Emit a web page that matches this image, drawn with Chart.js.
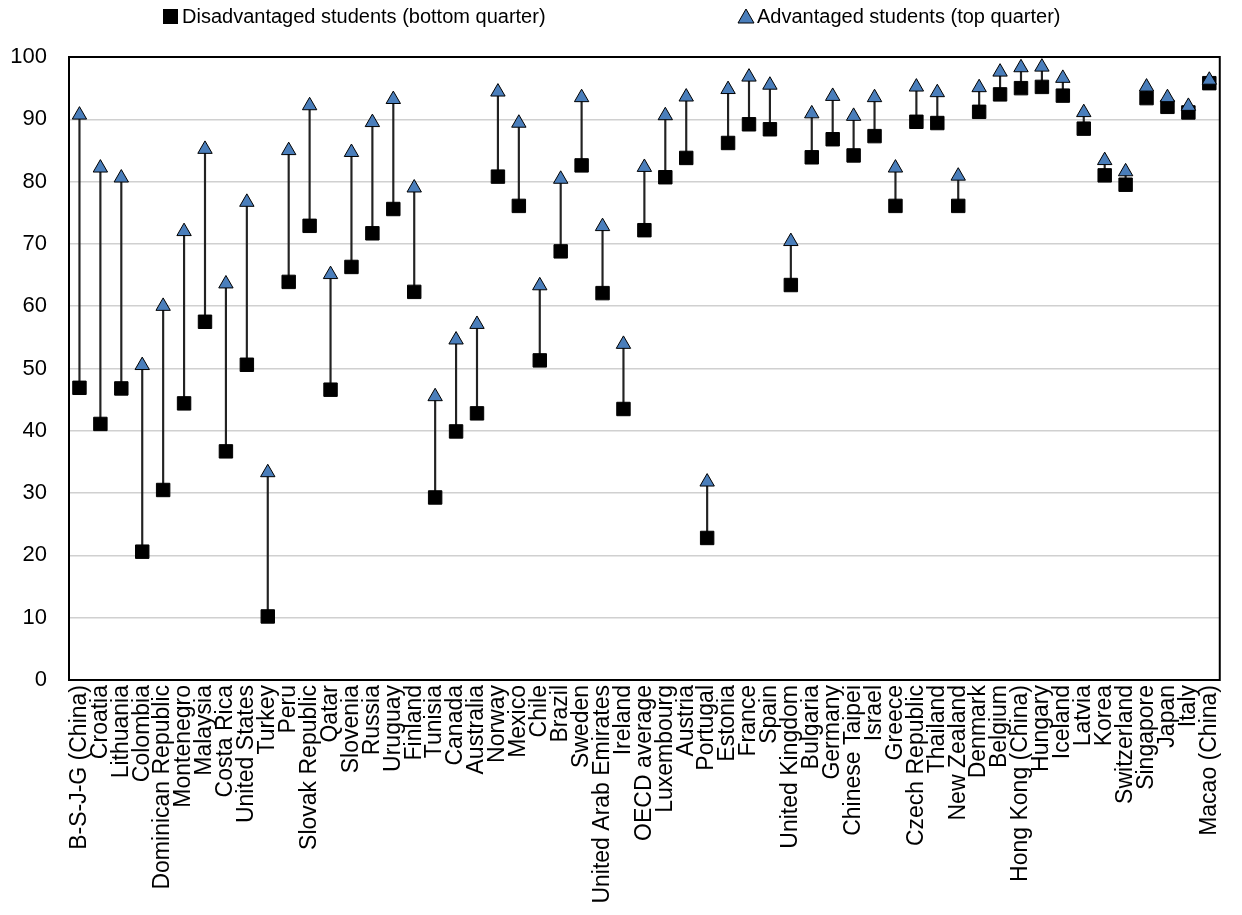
<!DOCTYPE html>
<html>
<head>
<meta charset="utf-8">
<script src="https://cdn.jsdelivr.net/npm/chart.js@4"></script>
<style>
  body { margin: 0; background: #fff; }
  #wrap { position: relative; width: 1242px; height: 915px; }
  .leg { position: absolute; top: 3px; font: 20px "Liberation Sans", Arial, sans-serif; color: #000; line-height: 26px; white-space: nowrap; }
  .leg .sq { display: inline-block; width: 15px; height: 15px; background: #000; margin-right: 4px; vertical-align: -1px; }
  .leg svg { margin-right: 2px; vertical-align: -1px; }
</style>
</head>
<body>
<div id="wrap">
  <div class="leg" style="left:163px"><span class="sq"></span>Disadvantaged students (bottom quarter)</div>
  <div class="leg" style="left:737px"><svg width="18" height="16"><polygon points="9,1 17,15 1,15" fill="#4a7ebb" stroke="#000" stroke-width="1"/></svg>Advantaged students (top quarter)</div>
  <canvas id="myChart" width="1242" height="915"></canvas>
</div>
<script>
// countries, in the order they appear on the axis
var countries = [
    'B-S-J-G (China)', 'Croatia', 'Lithuania', 'Colombia', 'Dominican Republic',
    'Montenegro', 'Malaysia', 'Costa Rica', 'United States', 'Turkey',
    'Peru', 'Slovak Republic', 'Qatar', 'Slovenia', 'Russia',
    'Uruguay', 'Finland', 'Tunisia', 'Canada', 'Australia',
    'Norway', 'Mexico', 'Chile', 'Brazil', 'Sweden',
    'United Arab Emirates', 'Ireland', 'OECD average', 'Luxembourg', 'Austria',
    'Portugal', 'Estonia', 'France', 'Spain', 'United Kingdom',
    'Bulgaria', 'Germany', 'Chinese Taipei', 'Israel', 'Greece',
    'Czech Republic', 'Thailand', 'New Zealand', 'Denmark', 'Belgium',
    'Hong Kong (China)', 'Hungary', 'Iceland', 'Latvia', 'Korea',
    'Switzerland', 'Singapore', 'Japan', 'Italy', 'Macao (China)'
];

// bottom quarter
var disadvantaged = [
    46.9, 41.1, 46.8, 20.6, 30.5, 44.4, 57.5, 36.7, 50.6, 10.2,
    63.9, 72.9, 46.6, 66.3, 71.7, 75.6, 62.3, 29.3, 39.9, 42.8,
    80.8, 76.1, 51.3, 68.8, 82.6, 62.1, 43.5, 72.2, 80.7, 83.8,
    22.8, 86.2, 89.2, 88.4, 63.4, 83.9, 86.8, 84.2, 87.3, 76.1,
    89.6, 89.4, 76.1, 91.2, 94.0, 95.0, 95.2, 93.8, 88.5, 81.0,
    79.5, 93.4, 92.0, 91.1, 95.8
];

// top quarter
var advantaged = [
    90.7, 82.2, 80.6, 50.5, 60.0, 72.0, 85.2, 63.6, 76.7, 33.3,
    85.0, 92.2, 65.1, 84.7, 89.5, 93.2, 79.0, 45.5, 54.6, 57.1,
    94.4, 89.4, 63.3, 80.4, 93.5, 72.8, 53.9, 82.3, 90.6, 93.6,
    31.8, 94.8, 96.8, 95.5, 70.4, 90.9, 93.7, 90.5, 93.5, 82.2,
    95.2, 94.3, 80.9, 95.1, 97.6, 98.3, 98.4, 96.6, 91.1, 83.4,
    81.6, 95.2, 93.5, 92.1, 96.3
];

var yTicks = [0, 10, 20, 30, 40, 50, 60, 70, 80, 90, 100];

// thin floating bars join each pair of markers
var connectors = disadvantaged.map(function(d, i) { return [d, advantaged[i]]; });

// box around the plot area
var frame = {
    id: 'frame',
    beforeDatasetsDraw: function(chart) {
        var a = chart.chartArea;
        var ctx = chart.ctx;
        ctx.save();
        ctx.strokeStyle = '#000';
        ctx.lineWidth = 2;
        ctx.strokeRect(a.left, a.top, a.right - a.left, a.bottom - a.top);
        ctx.restore();
    }
};

var labelFont = { family: '"Liberation Sans", Arial, sans-serif', size: 23 };

var config = {
    data: {
        labels: countries,
        datasets: [{
            type: 'line',
            label: 'Advantaged students (top quarter)',
            data: advantaged,
            showLine: false,
            pointStyle: 'triangle',
            pointRadius: 8.3,
            pointBackgroundColor: '#4a7ebb',
            pointBorderColor: '#000',
            pointBorderWidth: 1,
            order: 1
        },
        {
            type: 'line',
            label: 'Disadvantaged students (bottom quarter)',
            data: disadvantaged,
            showLine: false,
            pointStyle: 'rect',
            pointRadius: 9.5,
            pointBackgroundColor: '#000',
            pointBorderColor: '#000',
            pointBorderWidth: 1,
            order: 2
        },
        {
            type: 'bar',
            label: 'range',
            data: connectors,
            backgroundColor: '#222',
            barThickness: 1.5,
            order: 3
        }]
    },
    options: {
        responsive: false,
        animation: false,
        layout: { padding: { top: 57, right: 2, left: 0, bottom: 0 } },
        plugins: {
            legend: { display: false },
            tooltip: { enabled: false }
        },
        scales: {
            x: {
                offset: true,
                grid: { display: false, drawTicks: false },
                border: { display: false },
                ticks: {
                    autoSkip: false,
                    minRotation: 90,
                    maxRotation: 90,
                    padding: 5,
                    color: '#000',
                    font: labelFont
                },
                afterFit: function(scale) { scale.height = 235; }
            },
            y: {
                min: 0,
                max: 100,
                grid: { color: '#d0d0d0', lineWidth: 1.5, drawTicks: false },
                border: { display: false },
                afterBuildTicks: function(scale) {
                    scale.ticks = yTicks.map(function(v) { return { value: v }; });
                },
                ticks: {
                    padding: 22,
                    color: '#000',
                    font: { family: '"Liberation Sans", Arial, sans-serif', size: 22 }
                },
                afterFit: function(scale) { scale.width = 69; }
            }
        }
    },
    plugins: [frame]
};

var myChart = new Chart(document.getElementById('myChart'), config);
</script>
</body>
</html>
